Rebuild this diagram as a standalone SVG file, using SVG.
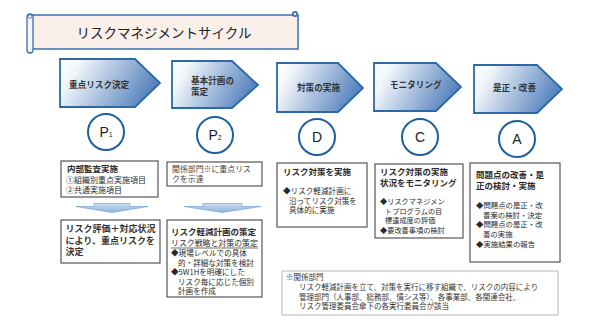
<svg xmlns="http://www.w3.org/2000/svg" width="604" height="331" viewBox="0 0 604 331">
<defs>
<linearGradient id="pg" x1="0" y1="0" x2="1" y2="0.3">
<stop offset="0" stop-color="#ffffff"/>
<stop offset="0.2" stop-color="#f2f6fb"/>
<stop offset="1" stop-color="#5a86bf"/>
</linearGradient>
<linearGradient id="ag" x1="0" y1="0" x2="0" y2="1">
<stop offset="0" stop-color="#c9dcf1"/>
<stop offset="1" stop-color="#8fb3de"/>
</linearGradient>
<style>
text{font-family:"Noto Sans CJK JP","Liberation Sans",sans-serif;fill:#2a2a2a}
.pent{fill:url(#pg);stroke:#2c69a6;stroke-width:1.8;stroke-linejoin:miter}
.pl{font-size:8.6px;font-weight:bold;fill:#333}
.circ{fill:#fff;stroke:#1e5f9e;stroke-width:2}
.cl{font-family:"Liberation Sans",Arial,sans-serif;font-size:14px;text-anchor:middle;fill:#222}
.box{fill:#fff;stroke:#555;stroke-width:1.2}
.t{font-size:8.5px;font-weight:bold}
.b{font-size:7.6px}
.n{font-size:7.5px;fill:#333}
.arr{fill:url(#ag);stroke:#6f98cc;stroke-width:0.6}
</style>
</defs>
<rect width="604" height="331" fill="#fff"/>

<g id="title">
<rect x="30" y="15" width="268" height="34" fill="#fbefea" stroke="#3a6fb0" stroke-width="1.5"/>
<rect x="27" y="14" width="6" height="39" rx="3" fill="#f4f6fb" stroke="#3a6fb0" stroke-width="1.3"/>
<circle cx="30" cy="16.5" r="1.8" fill="none" stroke="#3a6fb0" stroke-width="0.8"/>
<circle cx="295" cy="14" r="3" fill="#3a6fb0"/>
<circle cx="295" cy="14" r="1.3" fill="#fbefea"/>
<text x="164" y="38" text-anchor="middle" style="font-size:13.5px;fill:#222">リスクマネジメントサイクル</text>
</g>

<g id="step-p1">
<path class="pent" d="M60,59 L135,59 L160,83 L135,107 L60,107 Z"/>
<text class="pl" x="69" y="88">重点リスク決定</text>
</g>
<g id="step-p2">
<path class="pent" d="M172,61 L232,61 L258,85 L232,108 L172,108 Z"/>
<text class="pl" x="191" y="84">基本計画の</text>
<text class="pl" x="191" y="95">策定</text>
</g>
<g id="step-d">
<path class="pent" d="M277,63 L338,63 L363,88 L338,112 L277,112 Z"/>
<text class="pl" x="297" y="91">対策の実施</text>
</g>
<g id="step-c">
<path class="pent" d="M374,63 L436,63 L461,87 L436,111 L374,111 Z"/>
<text class="pl" x="390" y="88">モニタリング</text>
</g>
<g id="step-a">
<path class="pent" d="M474,65 L537,65 L562,89 L537,113 L474,113 Z"/>
<text class="pl" x="493" y="91">是正・改善</text>
</g>

<g id="circle-p1">
<circle class="circ" cx="106" cy="132" r="18"/>
<text class="cl" x="106" y="137">P<tspan style="font-size:7px">1</tspan></text>
</g>
<g id="circle-p2">
<circle class="circ" cx="215" cy="135" r="18"/>
<text class="cl" x="215" y="140">P<tspan style="font-size:7px">2</tspan></text>
</g>
<g id="circle-d">
<circle class="circ" cx="317" cy="137" r="18"/>
<text class="cl" x="317" y="142">D</text>
</g>
<g id="circle-c">
<circle class="circ" cx="420" cy="137" r="18"/>
<text class="cl" x="420" y="142">C</text>
</g>
<g id="circle-a">
<circle class="circ" cx="517" cy="139" r="18"/>
<text class="cl" x="517" y="144">A</text>
</g>

<g id="box-audit">
<rect class="box" x="61" y="161" width="97" height="36"/>
<text class="t" x="67" y="171.5">内部監査実施</text>
<text class="b" x="66" y="182.5" style="font-size:8px">①組織別重点実施項目</text>
<text class="b" x="66" y="192.5" style="font-size:8px">②共通実施項目</text>
</g>
<g id="box-notify">
<rect class="box" x="167" y="162" width="95" height="24"/>
<text class="b" x="172" y="172" style="font-size:7.9px;fill:#444">関係部門※に重点リス</text>
<text class="b" x="172" y="182" style="font-size:7.9px;fill:#444">クを示達</text>
</g>
<g id="box-decide">
<rect class="box" x="61" y="220" width="99" height="43"/>
<text x="65.5" y="232" style="font-size:9px;font-weight:bold;fill:#333">リスク評価＋対応状況</text>
<text x="65.5" y="243.5" style="font-size:9px;font-weight:bold;fill:#333">により、重点リスクを</text>
<text x="65.5" y="255" style="font-size:9px;font-weight:bold;fill:#333">決定</text>
</g>
<g id="box-plan">
<rect class="box" x="167" y="220" width="95" height="77"/>
<text class="t" x="171" y="234.5">リスク軽減計画の策定</text>
<text class="b" x="171" y="245.5" style="font-size:7.9px">リスク戦略と対策の策定</text>
<line x1="171" y1="248" x2="258" y2="248" stroke="#333" stroke-width="0.7"/>
<text class="b" x="171" y="256">◆現場レベルでの具体</text>
<text class="b" x="178" y="265.5">的・詳細な対策を検討</text>
<text class="b" x="171" y="275">◆5W1Hを明確にした</text>
<text class="b" x="178" y="284.5">リスク毎に応じた個別</text>
<text class="b" x="178" y="294">計画を作成</text>
</g>
<g id="box-do">
<rect class="box" x="277" y="163" width="90" height="64"/>
<text class="t" x="283" y="175">リスク対策を実施</text>
<text class="b" x="283" y="194">◆リスク軽減計画に</text>
<text class="b" x="289" y="203.5">沿ってリスク対策を</text>
<text class="b" x="289" y="213">具体的に実施</text>
</g>
<g id="box-check">
<rect class="box" x="375" y="164" width="88" height="74"/>
<text class="t" x="380" y="175">リスク対策の実施</text>
<text class="t" x="380" y="186">状況をモニタリング</text>
<text class="b" x="380" y="204" style="font-size:7.2px">◆リスクマネジメン</text>
<text class="b" x="385" y="213.5" style="font-size:7.2px">トプログラムの目</text>
<text class="b" x="385" y="223" style="font-size:7.2px">標達成度の評価</text>
<text class="b" x="380" y="232.5" style="font-size:7.2px">◆要改善事項の検討</text>
</g>
<g id="box-act">
<rect class="box" x="470" y="163" width="90" height="99"/>
<text class="t" x="476" y="177.5">問題点の改善・是</text>
<text class="t" x="476" y="188.5">正の検討・実施</text>
<text class="b" x="476" y="208" style="font-size:7.4px">◆問題点の是正・改</text>
<text class="b" x="483" y="217.5" style="font-size:7.4px">善案の検討・決定</text>
<text class="b" x="476" y="227" style="font-size:7.4px">◆問題点の是正・改</text>
<text class="b" x="483" y="236.5" style="font-size:7.4px">善の実施</text>
<text class="b" x="476" y="246.5" style="font-size:7.4px">◆実施結果の報告</text>
</g>
<g id="note">
<rect x="282" y="271" width="276" height="44" fill="#fff" stroke="#b5b5b5" stroke-width="1"/>
<text class="n" x="286" y="280">※関係部門</text>
<text class="n" x="299" y="290">リスク軽減計画を立て、対策を実行に移す組織で、リスクの内容により</text>
<text class="n" x="299" y="299.5">管理部門（人事部、総務部、情シス等）、各事業部、各関連会社、</text>
<text class="n" x="299" y="309">リスク管理委員会傘下の各実行委員会が該当</text>
</g>

<g id="connectors">
<path class="arr" d="M94,203.5 L130,203.5 L130,206.5 L148,206.5 L112,212.5 L76,206.5 L94,206.5 Z"/>
<path class="arr" d="M203,203.5 L242,203.5 L242,206.5 L261,206.5 L222,212.5 L184,206.5 L203,206.5 Z"/>
</g>
</svg>
